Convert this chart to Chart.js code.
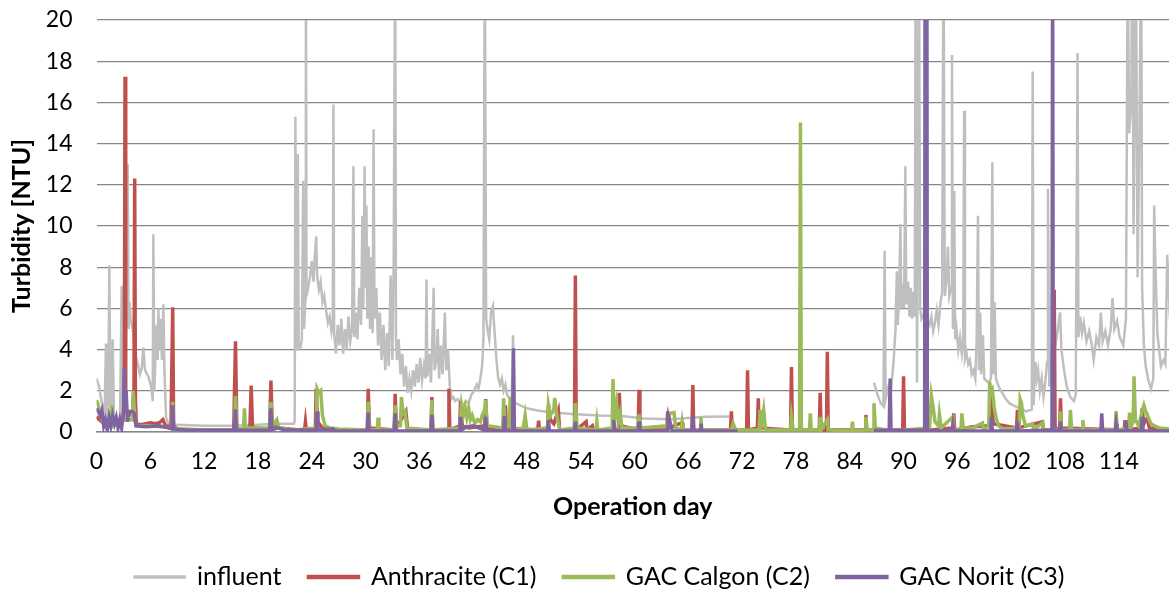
<!DOCTYPE html>
<html>
<head>
<meta charset="utf-8">
<script src="https://cdn.jsdelivr.net/npm/chart.js@4.4.1/dist/chart.umd.min.js"></script>
<style>
  html, body { margin: 0; padding: 0; background: #fff; }
</style>
</head>
<body>
<canvas id="turbidity-chart" width="1169" height="596"></canvas>
<script>
// [operation day, turbidity NTU] (values > 20 are clipped in the plot)
const influent = [
  [0.0, 2.6], [0.3, 2.2], [0.6, 1.4], [0.9, 0.9], [1.06, 4.3], [1.13, 1.0], [1.3, 0.8], [1.43, 8.1], [1.55, 1.5],
  [1.7, 0.9], [1.8, 4.5], [1.95, 0.8], [2.06, 0.3], [2.4, 0.3], [2.62, 0.5], [2.81, 7.1], [2.95, 1.0], [3.2, 1.2],
  [3.48, 13.0], [3.58, 5.0], [3.66, 6.3], [3.81, 5.5], [4.1, 4.8], [4.3, 3.8], [4.5, 3.5], [4.85, 2.8], [5.05, 3.1],
  [5.22, 4.1], [5.41, 3.0], [5.78, 2.7], [6.1, 2.2], [6.27, 1.5], [6.34, 9.6], [6.45, 2.0], [6.6, 4.0], [6.72, 5.2],
  [6.82, 3.5], [6.9, 6.0], [7.01, 4.0], [7.16, 5.5], [7.3, 3.5], [7.46, 6.2], [7.57, 3.0], [7.76, 0.7], [8.0, 0.4],
  [9.0, 0.35], [12.0, 0.3], [15.0, 0.3], [18.0, 0.35], [20.0, 0.4], [22.0, 0.4],
  [22.1, 0.5], [22.18, 15.3], [22.28, 4.3], [22.38, 4.0], [22.45, 13.5], [22.55, 4.2], [22.75, 4.1], [22.9, 4.5],
  [23.05, 12.2], [23.15, 5.0], [23.3, 6.5], [23.35, 24], [23.42, 6.6], [23.6, 7.0], [23.8, 7.5], [24.0, 8.3],
  [24.2, 7.3], [24.35, 8.6], [24.5, 9.5], [24.6, 7.6], [24.8, 6.9], [25.0, 7.3], [25.2, 6.3], [25.4, 6.6],
  [25.6, 5.9], [25.8, 5.3], [26.0, 5.6], [26.2, 4.9], [26.35, 5.4], [26.42, 15.9], [26.5, 4.8], [26.7, 3.8],
  [26.9, 5.2], [27.1, 4.2], [27.3, 5.5], [27.5, 3.8], [27.7, 5.0], [27.9, 4.0], [28.1, 5.6], [28.3, 4.4],
  [28.5, 5.0], [28.65, 12.9], [28.75, 4.6], [28.9, 5.8], [29.1, 4.5], [29.3, 7.0], [29.5, 5.2], [29.65, 10.5],
  [29.75, 6.0], [29.9, 12.9], [30.0, 7.0], [30.1, 11.0], [30.2, 5.5], [30.35, 9.0], [30.5, 5.0], [30.65, 8.5],
  [30.8, 4.8], [30.9, 14.7], [31.0, 5.5], [31.2, 7.0], [31.4, 4.2], [31.6, 5.8], [31.8, 3.5], [32.0, 5.2],
  [32.2, 3.0], [32.4, 4.8], [32.6, 3.2], [32.8, 7.6], [33.0, 3.5], [33.15, 8.6], [33.3, 24], [33.4, 4.5],
  [33.5, 3.5], [33.7, 4.5], [33.9, 2.8], [34.1, 3.8], [34.3, 2.2], [34.5, 3.2], [34.7, 1.9], [34.9, 2.6],
  [35.1, 2.0], [35.3, 3.0], [35.5, 2.2], [35.7, 3.3], [35.9, 2.4], [36.1, 3.6], [36.3, 2.5], [36.5, 3.2],
  [36.7, 2.6], [36.8, 7.4], [36.9, 2.7], [37.1, 3.8], [37.3, 2.4], [37.45, 4.5], [37.6, 7.0], [37.7, 3.0],
  [37.9, 3.5], [38.05, 5.0], [38.2, 2.6], [38.4, 4.2], [38.6, 2.8], [38.85, 5.8], [39.0, 3.0], [39.2, 4.0],
  [39.4, 2.2], [39.6, 1.6], [39.8, 1.7], [40.0, 1.5], [40.3, 1.6], [40.6, 1.4], [40.9, 1.3], [41.2, 1.5],
  [41.5, 1.4], [41.8, 1.8], [42.1, 2.0], [42.4, 2.3], [42.6, 2.1], [42.8, 2.6], [43.0, 3.2], [43.15, 4.5],
  [43.3, 24], [43.45, 5.5], [43.6, 5.0], [43.8, 4.5], [44.0, 5.8], [44.2, 6.1], [44.4, 4.8], [44.6, 3.5],
  [44.8, 2.6], [45.0, 2.3], [45.2, 2.6], [45.4, 2.0], [45.6, 2.3], [45.8, 1.8], [46.1, 1.6], [46.3, 1.7],
  [46.45, 4.7], [46.6, 1.5], [46.7, 1.4], [48.0, 1.15], [49.3, 1.03], [51.0, 0.95], [53.0, 0.87], [56.0, 0.8],
  [58.6, 0.78], [61.0, 0.66], [64.0, 0.62], [66.0, 0.68], [68.0, 0.74], [70.6, 0.75],
  [78.0, null],
  [86.7, 2.4], [87.1, 1.8], [87.45, 1.4], [87.75, 1.25], [87.89, 8.8], [88.0, 1.6], [88.3, 2.2], [88.6, 2.0],
  [88.9, 3.5], [89.1, 5.0], [89.25, 7.8], [89.35, 5.2], [89.5, 6.5], [89.65, 10.1], [89.75, 6.0], [89.9, 7.2],
  [90.05, 6.0], [90.2, 12.9], [90.3, 6.2], [90.5, 7.3], [90.65, 5.6], [90.8, 7.0], [90.95, 5.5], [91.1, 6.8],
  [91.25, 5.6], [91.35, 24], [91.5, 2.4], [91.72, 24], [91.85, 6.0], [92.0, 5.5], [92.3, 5.8], [92.6, 5.5],
  [92.9, 5.2], [93.1, 5.6], [93.3, 4.9], [93.5, 5.3], [93.7, 5.9], [93.9, 5.2], [94.1, 6.2], [94.3, 6.8],
  [94.45, 24], [94.6, 6.6], [94.8, 7.5], [94.95, 9.0], [95.1, 6.6], [95.3, 7.0], [95.4, 18.3], [95.5, 5.0],
  [95.65, 11.7], [95.75, 4.5], [95.9, 5.0], [96.1, 4.0], [96.3, 4.6], [96.5, 3.8], [96.65, 4.4], [96.75, 15.6],
  [96.85, 3.6], [97.0, 3.9], [97.2, 3.3], [97.4, 3.5], [97.6, 2.8], [97.8, 3.0], [98.0, 2.6], [98.15, 4.5],
  [98.3, 10.5], [98.4, 3.0], [98.55, 5.8], [98.65, 2.8], [98.85, 4.7], [99.0, 2.6], [99.2, 2.5], [99.5, 2.4],
  [99.75, 2.6], [99.9, 13.1], [100.0, 2.8], [100.15, 6.3], [100.3, 2.6], [100.6, 2.2], [101.0, 1.9], [101.4, 1.6],
  [101.8, 1.4], [102.2, 1.3], [102.7, 1.2], [103.2, 1.1], [103.7, 1.0], [104.3, 1.1], [104.4, 17.5], [104.5, 1.3],
  [104.7, 3.4], [104.85, 2.6], [105.0, 3.0], [105.2, 2.0], [105.4, 2.6], [105.6, 1.7], [105.8, 2.4], [106.0, 3.4],
  [106.1, 11.8], [106.25, 2.2], [106.45, 3.5], [106.8, 4.8], [107.0, 4.4], [107.2, 5.0], [107.45, 5.8],
  [107.6, 4.0], [107.9, 3.0], [108.2, 2.2], [108.6, 1.7], [109.0, 1.5], [109.2, 1.8], [109.4, 18.4], [109.5, 4.6],
  [109.7, 5.6], [109.9, 4.8], [110.1, 5.3], [110.4, 4.4], [110.7, 4.9], [111.0, 4.2], [111.2, 3.5], [111.5, 4.6],
  [111.8, 4.2], [112.0, 5.8], [112.2, 4.4], [112.5, 4.9], [112.8, 4.2], [113.1, 5.0], [113.3, 6.5], [113.5, 5.0],
  [113.8, 5.4], [114.1, 4.6], [114.5, 4.2], [114.8, 5.5], [115.0, 24], [115.15, 14.5], [115.4, 16.1],
  [115.5, 24], [115.65, 9.6], [115.9, 24], [116.1, 7.5], [116.3, 14.5], [116.5, 24], [116.6, 7.1], [116.8, 4.2],
  [117.0, 3.2], [117.3, 2.5], [117.6, 2.1], [117.85, 2.6], [117.95, 11.0], [118.05, 8.7], [118.3, 4.8],
  [118.7, 3.2], [119.0, 3.5], [119.2, 3.3], [119.4, 8.6], [119.7, 5.5]
];

const anthracite = [
  [0.0, 0.75], [0.3, 0.6], [0.6, 0.5], [1.0, 0.4], [1.5, 0.5], [2.0, 0.45], [2.5, 0.5], [3.0, 0.6], [3.1, 2.0],
  [3.18, 17.25], [3.26, 2.0], [3.35, 1.0], [3.6, 0.8], [4.0, 0.9], [4.18, 2.0], [4.26, 12.3], [4.34, 1.5],
  [4.45, 0.4], [5.0, 0.35], [5.5, 0.4], [6.0, 0.45], [6.5, 0.4], [7.0, 0.45], [7.4, 0.6], [7.7, 0.3], [8.3, 0.25],
  [8.5, 6.05], [8.6, 0.3], [9.0, 0.15], [12.0, 0.1], [15.3, 0.1], [15.5, 4.4], [15.65, 0.12], [17.1, 0.15],
  [17.25, 2.25], [17.4, 0.2], [19.3, 0.15], [19.45, 2.5], [19.6, 0.3], [20.5, 0.2], [22.5, 0.1], [23.2, 0.1],
  [23.3, 0.5], [23.4, 0.1], [24.4, 0.1], [24.5, 2.1], [24.65, 0.5], [25.2, 0.2], [26.0, 0.1], [30.2, 0.1],
  [30.3, 2.1], [30.45, 0.2], [33.2, 0.1], [33.3, 1.85], [33.45, 0.2], [34.5, 1.0], [34.7, 0.1], [37.3, 0.1],
  [37.4, 1.7], [37.5, 0.1], [39.2, 0.1], [39.3, 2.1], [39.4, 0.1], [40.5, 0.3], [40.6, 1.5], [40.8, 0.3],
  [41.5, 0.2], [43.3, 0.3], [43.4, 1.6], [43.55, 0.2], [44.3, 0.1], [45.5, 0.2], [45.6, 1.3], [45.7, 0.2],
  [49.2, 0.1], [49.3, 0.55], [49.4, 0.1], [50.3, 0.2], [50.4, 1.3], [50.6, 0.6], [51.0, 0.4], [51.5, 1.05],
  [51.65, 0.1], [53.3, 0.1], [53.4, 7.6], [53.5, 0.1], [54.6, 0.5], [54.7, 0.1], [55.3, 0.3], [55.4, 0.1],
  [58.2, 0.1], [58.3, 1.9], [58.45, 0.3], [60.4, 0.1], [60.5, 2.05], [60.6, 0.1], [63.6, 0.1], [63.7, 1.0],
  [63.85, 0.2], [65.3, 0.45], [65.4, 0.1], [66.4, 0.1], [66.5, 2.28], [66.6, 0.1], [70.7, 0.1], [70.8, 1.0],
  [70.9, 0.1], [72.5, 0.1], [72.6, 3.0], [72.7, 0.1], [73.7, 0.2], [73.8, 1.64], [73.9, 0.2], [77.4, 0.1],
  [77.5, 3.15], [77.6, 0.1], [80.6, 0.1], [80.7, 1.9], [80.8, 0.1], [81.4, 0.1], [81.5, 3.9], [81.6, 0.1],
  [85.7, 0.1], [85.8, 0.83], [85.9, 0.1], [89.9, 0.1], [90.0, 2.7], [90.1, 0.1], [93.0, 0.1], [95.5, 0.2],
  [95.6, 0.9], [95.7, 0.1], [97.7, 0.25], [99.7, 0.3], [99.8, 2.0], [100.0, 0.4], [102.6, 0.2], [102.7, 1.07],
  [102.8, 0.2], [105.5, 0.5], [105.6, 0.1], [106.7, 0.1], [106.8, 6.9], [106.9, 0.1], [107.4, 0.2],
  [107.5, 1.64], [107.6, 0.2], [114.6, 0.1], [114.7, 0.58], [114.8, 0.1], [116.5, 0.2], [116.6, 1.15],
  [116.8, 0.4], [117.2, 0.7], [117.4, 0.2], [119.7, 0.1]
];

const gacCalgon = [
  [0.0, 1.55], [0.2, 1.3], [0.4, 1.0], [0.6, 0.6], [0.9, 0.3], [1.2, 0.5], [1.5, 0.3], [1.7, 1.3], [1.85, 0.3],
  [2.2, 0.4], [2.8, 0.5], [3.3, 0.6], [4.0, 0.6], [4.1, 2.0], [4.3, 0.5], [4.5, 0.3], [6.0, 0.3], [8.4, 0.2],
  [8.5, 1.47], [8.6, 0.2], [10.0, 0.1], [15.4, 0.1], [15.5, 1.75], [15.65, 0.1], [16.4, 0.2], [16.5, 1.15],
  [16.6, 0.2], [19.3, 0.2], [19.45, 1.45], [19.6, 0.3], [20.1, 0.6], [20.3, 0.2], [22.0, 0.1], [24.5, 0.2],
  [24.6, 2.1], [24.8, 1.9], [25.0, 2.0], [25.2, 0.8], [25.5, 0.3], [26.0, 0.2], [27.0, 0.15], [30.2, 0.1],
  [30.3, 1.47], [30.45, 0.1], [31.3, 0.1], [31.4, 0.7], [31.5, 0.1], [33.2, 0.1], [33.3, 1.3], [33.45, 0.3],
  [33.9, 0.3], [34.0, 1.7], [34.2, 0.9], [34.4, 1.0], [34.6, 0.2], [37.3, 0.1], [37.4, 1.55], [37.5, 0.1],
  [40.5, 0.2], [40.7, 1.3], [40.9, 0.8], [41.1, 1.2], [41.3, 0.7], [41.5, 1.15], [41.7, 0.6], [41.9, 0.8],
  [42.2, 0.4], [42.5, 0.6], [42.8, 0.5], [43.0, 0.8], [43.3, 1.1], [43.4, 1.55], [43.55, 0.3], [45.3, 0.2],
  [45.4, 1.64], [45.55, 0.2], [46.0, 0.3], [46.15, 1.7], [46.3, 0.1], [47.6, 0.2], [47.8, 0.8], [48.0, 0.1],
  [50.3, 0.2], [50.4, 1.3], [50.6, 0.8], [51.0, 1.1], [51.1, 1.65], [51.3, 0.9], [51.5, 0.4], [51.7, 0.1],
  [53.3, 0.2], [53.4, 1.4], [53.6, 0.2], [55.7, 0.1], [55.8, 0.5], [55.9, 0.1], [57.5, 0.2], [57.6, 2.57],
  [57.75, 0.6], [58.0, 1.4], [58.2, 0.5], [58.4, 0.9], [58.6, 0.2], [60.4, 0.2], [60.5, 0.85], [60.7, 0.2],
  [63.7, 0.3], [63.9, 0.9], [64.4, 0.94], [64.6, 0.2], [65.2, 0.1], [65.3, 0.45], [65.4, 0.1], [67.3, 0.1],
  [67.4, 0.74], [67.5, 0.1], [70.8, 0.1], [71.0, 0.4], [71.3, 0.1], [73.9, 0.1], [74.0, 1.07], [74.2, 0.5],
  [74.4, 1.07], [74.6, 0.1], [77.4, 0.1], [77.5, 0.74], [77.7, 0.1], [78.4, 0.1], [78.5, 15.03], [78.6, 0.1],
  [79.5, 0.1], [79.6, 0.9], [79.7, 0.1], [80.6, 0.1], [80.7, 0.74], [80.8, 0.1], [81.5, 0.6], [81.6, 0.1],
  [84.2, 0.05], [84.3, 0.5], [84.4, 0.05], [85.7, 0.1], [85.8, 0.74], [85.9, 0.1], [86.6, 0.1], [86.7, 1.4],
  [86.85, 0.2], [88.0, 0.1], [90.0, 0.1], [92.9, 0.2], [93.1, 1.75], [93.3, 1.2], [93.5, 0.5], [93.9, 0.3],
  [94.0, 0.85], [94.2, 0.2], [95.5, 0.74], [95.6, 0.1], [96.4, 0.1], [96.5, 0.9], [96.65, 0.2], [97.7, 0.2],
  [98.8, 0.43], [98.9, 0.1], [99.5, 0.3], [99.6, 2.44], [99.75, 1.9], [99.9, 2.04], [100.1, 1.2], [100.3, 0.7],
  [100.6, 0.3], [101.0, 0.15], [102.9, 0.2], [103.0, 1.6], [103.15, 1.4], [103.3, 0.8], [103.6, 0.3],
  [104.4, 0.4], [104.5, 0.1], [105.5, 0.45], [105.6, 0.1], [107.4, 0.1], [107.5, 1.0], [107.6, 0.1],
  [108.5, 0.1], [108.6, 1.07], [108.75, 0.1], [109.9, 0.1], [110.0, 0.58], [110.1, 0.1], [113.6, 0.1],
  [113.7, 1.0], [113.85, 0.1], [115.1, 0.2], [115.2, 0.94], [115.4, 0.3], [115.6, 0.5], [115.7, 2.7],
  [115.85, 0.6], [116.2, 0.3], [116.6, 1.0], [116.8, 1.3], [117.0, 1.0], [117.3, 0.7], [117.6, 0.4],
  [118.0, 0.3], [118.5, 0.2], [119.7, 0.15]
];

const gacNorit = [
  [0.0, 1.15], [0.2, 1.0], [0.4, 0.8], [0.6, 1.05], [0.8, 0.3], [1.0, 0.6], [1.2, 0.1], [1.4, 0.7], [1.6, 0.3],
  [1.8, 0.8], [2.0, 0.4], [2.2, 0.7], [2.4, 0.2], [2.6, 0.6], [2.8, 0.2], [3.0, 1.0], [3.1, 3.1], [3.2, 1.5],
  [3.3, 2.0], [3.45, 0.5], [3.6, 1.0], [4.0, 1.0], [4.2, 0.9], [4.4, 0.3], [5.5, 0.25], [7.0, 0.3], [8.0, 0.2],
  [8.4, 0.15], [8.5, 1.3], [8.6, 0.15], [10.0, 0.08], [15.4, 0.08], [15.5, 1.1], [15.6, 0.08], [19.3, 0.08],
  [19.45, 1.15], [19.55, 0.1], [20.2, 0.2], [21.0, 0.1], [24.5, 0.1], [24.6, 1.0], [24.7, 0.1], [26.4, 0.15],
  [26.5, 0.05], [30.2, 0.05], [30.3, 0.94], [30.4, 0.05], [33.2, 0.05], [33.3, 0.9], [33.4, 0.05], [37.3, 0.05],
  [37.4, 0.83], [37.5, 0.05], [40.5, 0.05], [40.6, 0.74], [40.7, 0.1], [41.3, 0.25], [42.0, 0.3], [42.6, 0.2],
  [43.3, 0.1], [43.4, 0.74], [43.5, 0.05], [45.4, 0.05], [45.5, 0.77], [45.6, 0.05], [46.4, 0.05], [46.5, 4.06],
  [46.6, 0.05], [50.3, 0.05], [50.4, 0.58], [50.5, 0.05], [53.3, 0.05], [53.4, 0.5], [53.5, 0.05], [57.6, 0.05],
  [57.7, 0.58], [57.8, 0.05], [60.4, 0.05], [60.5, 0.5], [60.6, 0.05], [63.7, 0.05], [63.8, 0.74], [64.0, 0.4],
  [64.2, 0.05], [66.4, 0.05], [66.5, 0.8], [66.6, 0.05], [67.3, 0.05], [67.4, 0.4], [67.5, 0.05], [71.5, 0.05],
  [78.0, null],
  [86.7, 0.08], [88.4, 0.1], [88.5, 2.6], [88.6, 0.1], [90.0, 0.08], [92.35, 0.1], [92.4, 24], [92.6, 24],
  [92.65, 0.1], [93.5, 0.05], [95.4, 0.05], [95.5, 0.35], [95.6, 0.05], [99.7, 0.05], [99.8, 0.74], [99.9, 0.05],
  [102.6, 0.05], [102.7, 0.5], [102.8, 0.05], [106.55, 0.1], [106.62, 24], [106.7, 0.1], [107.4, 0.05],
  [107.5, 0.5], [107.6, 0.05], [112.0, 0.05], [112.1, 0.9], [112.2, 0.05], [113.6, 0.05], [113.7, 0.4],
  [113.8, 0.05], [114.7, 0.05], [114.8, 0.55], [114.9, 0.05], [116.5, 0.05], [116.6, 0.74], [116.7, 0.05],
  [119.7, 0.05]
];

const seriesNames = ['influent', 'Anthracite (C1)', 'GAC Calgon (C2)', 'GAC Norit (C3)'];
const seriesColors = ['#BFBFBF', '#C0504D', '#9BBB59', '#8064A2'];
const seriesWidths = [2.5, 3.5, 3.5, 3.5];
const FONT = 'Lato, "Liberation Sans", sans-serif';

function to_points(rows) {
    return rows.map(([x, y]) => ({ x, y }));
}

function build_datasets() {
    const all = [influent, anthracite, gacCalgon, gacNorit];
    return all.map((rows, i) => ({
        label: seriesNames[i],
        data: to_points(rows),
        borderColor: seriesColors[i],
        backgroundColor: seriesColors[i],
        borderWidth: seriesWidths[i],
        pointRadius: 0,
        tension: 0,
        spanGaps: false,
        // purple drawn last (on top), grey first
        order: 3 - i
    }));
}

// nudge the legend row sideways, the original is not centred on the canvas
const legendShift = {
    id: 'legendShift',
    afterLayout(chart) {
        const dx = 15;
        chart.legend.left += dx;
        chart.legend.right += dx;
    }
};

const config = {
    type: 'line',
    data: { datasets: build_datasets() },
    options: {
        responsive: false,
        animation: false,
        layout: { padding: { top: 20, right: 0, bottom: -3.5, left: 0 } },
        scales: {
            x: {
                type: 'linear',
                min: 0,
                max: 119.6,
                grid: { display: false, drawTicks: false },
                border: { display: true, color: '#868686', width: 1.5 },
                ticks: {
                    stepSize: 6,
                    includeBounds: false,
                    autoSkip: false,
                    maxRotation: 0,
                    padding: 16,
                    color: '#000',
                    font: { family: FONT, size: 23 }
                },
                title: {
                    display: true,
                    text: 'Operation day',
                    color: '#000',
                    font: { family: FONT, size: 25, weight: 'bold' },
                    padding: { top: 0, bottom: 16 }
                },
                afterFit: (scale) => {
                    scale.height = 105.5;
                    scale.paddingLeft = 0;
                    scale.paddingRight = 0;
                }
            },
            y: {
                min: 0,
                max: 20,
                grid: { color: '#868686', lineWidth: 1.3, drawTicks: false },
                border: { display: false },
                ticks: {
                    stepSize: 2,
                    padding: 24,
                    color: '#000',
                    font: { family: FONT, size: 23 }
                },
                title: {
                    display: true,
                    text: 'Turbidity [NTU]',
                    color: '#000',
                    font: { family: FONT, size: 25, weight: 'bold' },
                    padding: { top: 7, bottom: 0 }
                },
                afterFit: (scale) => {
                    scale.width = 96.5;
                    scale.paddingTop = 0;
                    scale.paddingBottom = 0;
                }
            }
        },
        plugins: {
            legend: {
                position: 'bottom',
                labels: {
                    boxWidth: 50,
                    boxHeight: 1,
                    padding: 27,
                    color: '#000',
                    font: { family: FONT, size: 25 },
                    sort: (a, b) => a.datasetIndex - b.datasetIndex
                }
            },
            tooltip: { enabled: false }
        }
    },
    plugins: [legendShift]
};

new Chart(document.getElementById('turbidity-chart'), config);
</script>
</body>
</html>
